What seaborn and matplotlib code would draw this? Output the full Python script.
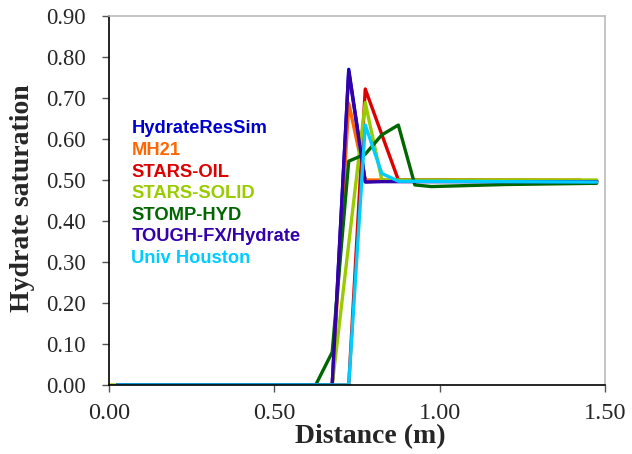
import numpy as np
import pandas as pd
import matplotlib
matplotlib.use("Agg")
import matplotlib.pyplot as plt
import seaborn as sns

# Hydrate saturation profiles along the column, one series per simulator
names = ["HydrateResSim", "MH21", "STARS-OIL", "STARS-SOLID",
         "STOMP-HYD", "TOUGH-FX/Hydrate", "Univ Houston"]
colors = ["#0000CC", "#FF6600", "#DD0000", "#99CC00",
          "#006600", "#3300AA", "#00CCFF"]

hrs_x = [0.025, 0.675, 0.725, 0.775, 0.825, 1.475]
hrs_y = [0.0, 0.0, 0.770, 0.496, 0.497, 0.497]

mh21_x = [0.025, 0.675, 0.725, 0.775, 0.825, 1.425]
mh21_y = [0.0, 0.0, 0.687, 0.500, 0.500, 0.500]

oil_x = [0.025, 0.725, 0.775, 0.825, 0.875, 1.475]
oil_y = [0.0, 0.0, 0.722, 0.611, 0.500, 0.498]

solid_x = [0.0, 0.675, 0.775, 0.825, 0.875, 1.475]
solid_y = [0.0, 0.0, 0.689, 0.500, 0.500, 0.500]

stomp_x = [0.025, 0.625, 0.675, 0.725, 0.775, 0.825, 0.875, 0.925, 0.975, 1.2, 1.475]
stomp_y = [0.0, 0.0, 0.080, 0.546, 0.563, 0.610, 0.634, 0.488, 0.484, 0.489, 0.492]

tough_x = [0.025, 0.675, 0.725, 0.775, 0.825, 1.475]
tough_y = [0.0, 0.0, 0.765, 0.495, 0.496, 0.496]

uh_x = [0.025, 0.725, 0.775, 0.825, 0.875, 1.475]
uh_y = [0.0, 0.0, 0.634, 0.516, 0.497, 0.495]

xs = [hrs_x, mh21_x, oil_x, solid_x, stomp_x, tough_x, uh_x]
ys = [hrs_y, mh21_y, oil_y, solid_y, stomp_y, tough_y, uh_y]

x_ticks = [0.0, 0.5, 1.0, 1.5]
y_ticks = [0.0, 0.1, 0.2, 0.3, 0.4, 0.5, 0.6, 0.7, 0.8, 0.9]

frames = [pd.DataFrame({"Distance": x, "Saturation": y, "Model": n})
          for n, x, y in zip(names, xs, ys)]
df = pd.concat(frames, ignore_index=True)

sns.set_style("white")
plt.rcParams["font.family"] = ["Liberation Serif", "DejaVu Serif"]

fig = plt.figure(figsize=(6.32, 4.54), dpi=100)
ax = fig.add_axes([109 / 632, 1 - 385 / 454, (605 - 109) / 632, (385 - 16) / 454])

sns.lineplot(data=df, x="Distance", y="Saturation", hue="Model",
             hue_order=names, palette=colors, sort=False,
             estimator=None, linewidth=2.4, legend=False, ax=ax)

ax.set_xlim(0, 1.5)
ax.set_ylim(0, 0.9)
ax.set_xticks(x_ticks)
ax.set_yticks(y_ticks)
ax.set_xticklabels([f"{v:.2f}" for v in x_ticks])
ax.set_yticklabels([f"{v:.2f}" for v in y_ticks])
ax.tick_params(axis="both", direction="out", length=5, width=1,
               color="#555555", left=True, bottom=True)
ax.tick_params(axis="x", labelsize=17.5, pad=8)
ax.tick_params(axis="y", labelsize=16.3, pad=11.5)

for side in ("left", "bottom"):
    ax.spines[side].set_color("black")
    ax.spines[side].set_linewidth(1.2)
for side in ("top", "right"):
    ax.spines[side].set_color("#BBBBBB")
    ax.spines[side].set_linewidth(1.2)

ax.set_xlabel("Distance (m)", fontsize=20, fontweight="bold")
ax.set_ylabel("Hydrate saturation", fontsize=20, fontweight="bold")
ax.xaxis.set_label_coords(0.526, -0.106)
ax.yaxis.set_label_coords(-0.150, 0.505)

# Coloured series names as the key
for i, (n, c) in enumerate(zip(names, colors)):
    ax.text(0.045, 0.694 - i * 0.0585, n, transform=ax.transAxes,
            color=c, fontsize=13.2, fontweight="bold",
            family=["Liberation Sans", "DejaVu Sans"], va="center", ha="left")

fig.savefig("out.png", dpi=100)
